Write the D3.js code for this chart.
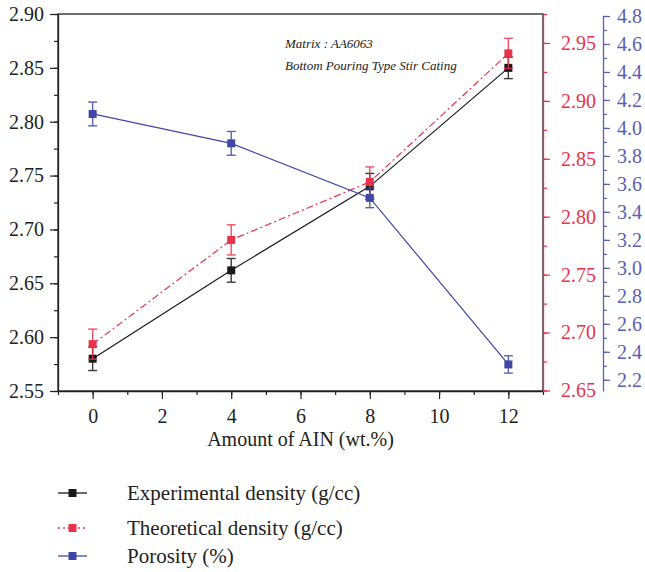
<!DOCTYPE html>
<html><head><meta charset="utf-8">
<script src="https://cdn.jsdelivr.net/npm/d3@7"></script>
<style>body{margin:0;background:#fff}svg{display:block}</style>
</head><body><div id="chart"></div>
<script>
const amounts = [0, 4, 8, 12];
const expDensity = [2.580, 2.662, 2.740, 2.850];
const expErr = [0.011, 0.011, 0.012, 0.010];
const theoDensity = [2.690, 2.780, 2.830, 2.941];
const theoErr = [0.013, 0.013, 0.013, 0.013];
const porosity = [4.10, 3.89, 3.50, 2.31];
const porErr = [0.085, 0.085, 0.07, 0.062];
const xTicks = [0, 2, 4, 6, 8, 10, 12];
const leftTicks = [2.55, 2.60, 2.65, 2.70, 2.75, 2.80, 2.85, 2.90];
const redTicks = [2.65, 2.70, 2.75, 2.80, 2.85, 2.90, 2.95];
const blueTicks = [2.2, 2.4, 2.6, 2.8, 3.0, 3.2, 3.4, 3.6, 3.8, 4.0, 4.2, 4.4, 4.6, 4.8];
const legendLabels = ["Experimental density (g/cc)", "Theoretical density (g/cc)", "Porosity (%)"];
const notes = ["Matrix : AA6063", "Bottom Pouring Type Stir Cating"];
const xTitle = "Amount of AIN (wt.%)";

const W = 645, H = 572;
const L = 58, R = 543, T = 14, B = 391;
const BLACK = "#1a1a1a", RED = "#e8334a", BLUE = "#3f47a6", BLUEAX = "#5a5fb5";
const FONT = "'Liberation Serif', 'DejaVu Serif', serif";
const TICKFS = 20, TEXTFS = 21;

const svg = d3.select("#chart").append("svg").attr("width", W).attr("height", H)
  .style("font-family", FONT);

const x = d3.scaleLinear().domain([-1, 13]).range([L, R]);
const yL = d3.scaleLinear().domain([2.55, 2.90]).range([B, T]);
const yR = d3.scaleLinear().domain([2.65, 2.975]).range([B - 0.5, T]);
const yB = d3.scaleLinear().domain([2.12, 4.8]).range([B, 16]);

function styleAxis(g, color, size) {
  g.select(".domain").attr("stroke", color).attr("stroke-width", 1.3);
  g.selectAll(".tick line").attr("stroke", color).attr("stroke-width", 1.2);
  g.selectAll(".tick text").attr("fill", color).style("font-size", size + "px").style("font-family", FONT);
}

// frame
svg.append("rect").attr("x", L).attr("y", T).attr("width", R - L).attr("height", B - T)
  .attr("fill", "none").attr("stroke", "#222").attr("stroke-width", 1.3);

// x axis
const gxm = svg.append("g").attr("transform", `translate(0,${B})`)
  .call(d3.axisBottom(x).tickValues(d3.range(-1, 14, 1)).tickSize(4).tickFormat(""));
styleAxis(gxm, "#222", TICKFS);
gxm.select(".domain").remove();
const gx = svg.append("g").attr("transform", `translate(0,${B})`)
  .call(d3.axisBottom(x).tickValues(xTicks).tickSize(8).tickSizeOuter(0).tickPadding(10).tickFormat(d3.format("d")));
styleAxis(gx, "#222", TICKFS);

svg.append("text").attr("x", x(6)).attr("y", 446).attr("text-anchor", "middle")
  .style("font-size", "20px").attr("fill", "#222").text(xTitle);

// left axis
const gym = svg.append("g").attr("transform", `translate(${L},0)`)
  .call(d3.axisLeft(yL).tickValues(d3.range(0, 15).map(i => 2.55 + i * 0.025)).tickSize(4).tickFormat(""));
styleAxis(gym, "#222", TICKFS);
gym.select(".domain").remove();
const gy = svg.append("g").attr("transform", `translate(${L},0)`)
  .call(d3.axisLeft(yL).tickValues(leftTicks).tickSize(8).tickSizeOuter(0).tickPadding(6).tickFormat(d3.format(".2f")));
styleAxis(gy, "#222", TICKFS);

// red axis
const grm = svg.append("g").attr("transform", `translate(${R},0)`)
  .call(d3.axisRight(yR).tickValues(d3.range(0, 14).map(i => 2.65 + i * 0.025)).tickSize(4).tickFormat(""));
styleAxis(grm, RED, TICKFS);
grm.select(".domain").remove();
const gr = svg.append("g").attr("transform", `translate(${R},0)`)
  .call(d3.axisRight(yR).tickValues(redTicks).tickSize(7).tickSizeOuter(0).tickPadding(11).tickFormat(d3.format(".2f")));
styleAxis(gr, RED, TICKFS);

// blue axis
const BX = 603;
const gbm = svg.append("g").attr("transform", `translate(${BX},0)`)
  .call(d3.axisRight(yB).tickValues(d3.range(0, 27).map(i => +(2.2 + i * 0.1).toFixed(1))).tickSize(4).tickFormat(""));
styleAxis(gbm, BLUEAX, TICKFS);
gbm.select(".domain").remove();
const gb = svg.append("g").attr("transform", `translate(${BX},0)`)
  .call(d3.axisRight(yB).tickValues(blueTicks).tickSize(7).tickSizeOuter(0).tickPadding(7).tickFormat(d3.format(".1f")));
styleAxis(gb, BLUEAX, TICKFS);

// series
function drawSeries(vals, errs, y, color, dash) {
  const g = svg.append("g");
  const pts = amounts.map((a, i) => [a, vals[i], errs[i]]);
  g.append("path").datum(pts)
    .attr("d", d3.line().x(d => x(d[0])).y(d => y(d[1])))
    .attr("fill", "none").attr("stroke", color).attr("stroke-width", 1.2)
    .attr("stroke-dasharray", dash || null);
  const eb = g.selectAll(".eb").data(pts).join("g").attr("stroke", color).attr("stroke-width", 1.4).attr("opacity", 0.85);
  eb.append("line").attr("x1", d => x(d[0])).attr("x2", d => x(d[0]))
    .attr("y1", d => y(d[1] - d[2])).attr("y2", d => y(d[1] + d[2]));
  eb.append("line").attr("x1", d => x(d[0]) - 4.5).attr("x2", d => x(d[0]) + 4.5)
    .attr("y1", d => y(d[1] + d[2])).attr("y2", d => y(d[1] + d[2]));
  eb.append("line").attr("x1", d => x(d[0]) - 4.5).attr("x2", d => x(d[0]) + 4.5)
    .attr("y1", d => y(d[1] - d[2])).attr("y2", d => y(d[1] - d[2]));
  g.selectAll(".m").data(pts).join("rect")
    .attr("x", d => x(d[0]) - 4).attr("y", d => y(d[1]) - 4)
    .attr("width", 8).attr("height", 8).attr("fill", color);
}
drawSeries(expDensity, expErr, yL, BLACK, null);
drawSeries(theoDensity, theoErr, yR, RED, "7,3,2,3");
drawSeries(porosity, porErr, yB, BLUE, null);

// annotation
svg.selectAll(".note").data(notes).join("text")
  .attr("x", 285).attr("y", (d, i) => 48 + i * 22)
  .style("font-size", "13px").style("font-style", "italic").attr("fill", "#222").text(d => d);

// legend
const legColors = [BLACK, RED, BLUE];
const legDash = [null, "2,3", null];
const legY = [493, 528, 556];
const lg = svg.selectAll(".leg").data(legendLabels).join("g")
  .attr("transform", (d, i) => `translate(0,${legY[i]})`);
lg.append("line").attr("x1", 58).attr("x2", 87).attr("y1", 0).attr("y2", 0)
  .attr("stroke", (d, i) => legColors[i]).attr("stroke-width", 1.3)
  .attr("stroke-dasharray", (d, i) => legDash[i]);
lg.append("rect").attr("x", 68.5).attr("y", -4).attr("width", 8).attr("height", 8)
  .attr("fill", (d, i) => legColors[i]);
lg.append("text").attr("x", 127).attr("y", 0).attr("dy", "0.35em")
  .style("font-size", TEXTFS + "px").attr("fill", "#222").text(d => d);
</script></body></html>
